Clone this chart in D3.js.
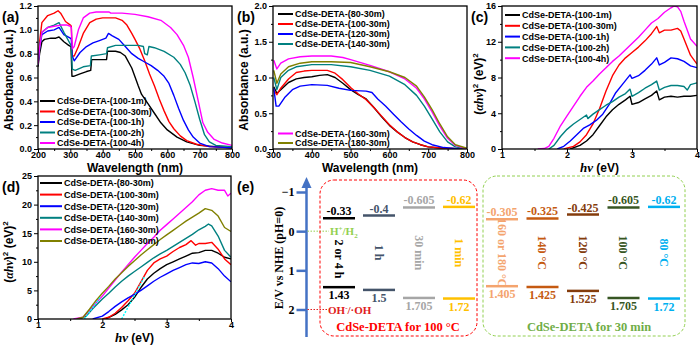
<!DOCTYPE html>
<html>
<head>
<meta charset="utf-8">
<script src="https://d3js.org/d3.v7.min.js"></script>
<style>
  body { margin: 0; background: #fff; }
  svg text { font-family: "Liberation Sans", Arial, sans-serif; font-weight: bold; }
  .serif text { font-family: "Liberation Serif", "Times New Roman", serif; font-weight: bold; }
  .tick text { font-size: 9px; fill: #000; }
  .domain { display: none; }
</style>
</head>
<body>
<svg width="700" height="345"></svg>
<script>
// ---------- panel (a): absorbance, 100 °C series ----------
const aNames = ['CdSe-DETA-(100-1m)', 'CdSe-DETA-(100-30m)', 'CdSe-DETA-(100-1h)', 'CdSe-DETA-(100-2h)', 'CdSe-DETA-(100-4h)'];
const a1m = [[200,0.69],[205,0.8],[212,0.9],[220,0.92],[240,0.93],[255,0.93],[265,0.94],[280,0.9],[295,0.87],[302,0.86],[305,0.61],[310,0.61],[330,0.63],[350,0.65],[363,0.66],[366,0.75],[390,0.75],[412,0.75],[415,0.82],[440,0.82],[455,0.81],[470,0.78],[490,0.68],[510,0.53],[520,0.46],[530,0.42],[540,0.38],[560,0.3],[580,0.22],[600,0.16],[630,0.1],[660,0.06],[700,0.03],[750,0.02],[800,0.01]];
const a30m = [[200,0.74],[205,0.9],[212,1.06],[230,1.12],[250,1.14],[262,1.16],[270,1.14],[285,1.07],[300,1.04],[303,1.03],[306,0.78],[312,0.78],[325,0.86],[340,0.97],[360,1.06],[380,1.09],[400,1.1],[440,1.1],[460,1.08],[475,1.04],[490,0.97],[500,0.92],[515,0.84],[530,0.74],[545,0.63],[560,0.53],[575,0.42],[590,0.32],[605,0.23],[620,0.17],[640,0.11],[660,0.07],[690,0.04],[730,0.02],[800,0.01]];
const a1h = [[200,0.71],[205,0.85],[212,0.96],[230,0.99],[250,1.0],[265,1.02],[280,0.96],[300,0.93],[303,0.92],[306,0.78],[312,0.74],[330,0.81],[350,0.86],[370,0.89],[390,0.91],[410,0.93],[418,0.97],[430,0.95],[450,0.92],[470,0.86],[490,0.8],[510,0.76],[530,0.73],[550,0.7],[570,0.66],[590,0.61],[605,0.55],[620,0.45],[635,0.34],[650,0.24],[665,0.16],[680,0.1],[700,0.05],[730,0.02],[800,0.01]];
const a2h = [[200,0.71],[205,0.85],[212,0.98],[230,1.02],[250,1.04],[265,1.06],[280,0.98],[300,0.88],[303,0.86],[306,0.67],[315,0.66],[340,0.69],[362,0.7],[365,0.78],[390,0.79],[412,0.8],[415,0.85],[440,0.87],[480,0.87],[510,0.87],[526,0.86],[530,0.8],[538,0.79],[543,0.86],[560,0.85],[590,0.82],[620,0.77],[640,0.71],[655,0.64],[670,0.54],[685,0.4],[700,0.25],[715,0.12],[730,0.06],[750,0.03],[800,0.02]];
const a4h = [[200,0.71],[205,0.85],[212,0.98],[230,1.02],[250,1.03],[270,1.04],[290,1.04],[300,1.03],[303,1.02],[306,0.84],[312,0.86],[325,1.0],[340,1.1],[360,1.14],[380,1.15],[420,1.15],[425,1.14],[460,1.14],[500,1.13],[540,1.11],[580,1.08],[610,1.02],[630,0.96],[650,0.87],[665,0.77],[680,0.6],[695,0.41],[710,0.22],[725,0.14],[745,0.08],[770,0.05],[800,0.03]];

// ---------- panel (b): absorbance, 30 min series ----------
const bNames = ['CdSe-DETA-(80-30m)', 'CdSe-DETA-(100-30m)', 'CdSe-DETA-(120-30m)', 'CdSe-DETA-(140-30m)', 'CdSe-DETA-(160-30m)', 'CdSe-DETA-(180-30m)'];
const b80 = [[302,0.87],[310,0.78],[320,0.83],[340,0.93],[360,0.98],[380,1.0],[400,1.01],[420,1.03],[440,1.04],[460,1.0],[480,0.92],[500,0.83],[520,0.76],[540,0.7],[560,0.58],[580,0.45],[600,0.33],[620,0.24],[640,0.16],[660,0.1],[680,0.06],[700,0.03],[740,0.01],[800,0]];
const b100 = [[302,0.82],[310,0.76],[320,0.85],[340,0.98],[360,1.07],[380,1.09],[400,1.1],[440,1.1],[460,1.06],[480,0.97],[500,0.86],[520,0.77],[540,0.69],[560,0.58],[580,0.46],[600,0.34],[620,0.24],[640,0.16],[660,0.1],[680,0.06],[700,0.03],[740,0.01],[800,0]];
const b120 = [[302,0.85],[308,0.6],[315,0.6],[330,0.72],[350,0.83],[370,0.88],[400,0.9],[440,0.89],[470,0.85],[500,0.82],[540,0.81],[555,0.79],[570,0.7],[590,0.6],[610,0.49],[630,0.38],[650,0.28],[670,0.19],[690,0.11],[710,0.06],[740,0.02],[780,0],[800,0]];
const b140 = [[302,1.0],[310,0.83],[320,1.0],[340,1.1],[360,1.15],[400,1.18],[450,1.18],[500,1.15],[550,1.1],[600,1.02],[640,0.9],[670,0.75],[690,0.6],[710,0.42],[730,0.24],[750,0.1],[770,0.03],[800,0]];
const b160 = [[302,1.24],[310,1.12],[320,1.2],[340,1.26],[370,1.29],[400,1.3],[450,1.3],[480,1.28],[500,1.25],[550,1.17],[600,1.08],[640,0.98],[670,0.85],[690,0.7],[710,0.52],[730,0.32],[750,0.15],[770,0.05],[800,0]];
const b180 = [[302,1.1],[310,0.92],[320,1.05],[340,1.15],[370,1.2],[400,1.22],[450,1.22],[500,1.21],[550,1.15],[600,1.08],[640,1.0],[670,0.88],[690,0.73],[710,0.55],[730,0.35],[750,0.17],[770,0.06],[800,0.01]];

// ---------- panel (c): Tauc, 100 °C series ----------
const c1m = [[2.05,0],[2.2,0.4],[2.3,0.9],[2.4,1.6],[2.5,2.6],[2.6,3.6],[2.7,4.4],[2.8,5.0],[2.9,5.5],[2.97,5.9],[3.0,5.0],[3.1,5.2],[3.2,5.6],[3.3,6.0],[3.38,6.5],[3.42,5.5],[3.5,5.8],[3.6,5.9],[3.7,5.8],[3.8,5.9],[3.9,5.9],[4.0,6.0]];
const c30m = [[1.95,0],[2.1,0.3],[2.2,0.8],[2.3,1.6],[2.4,2.8],[2.5,4.5],[2.6,6.5],[2.7,8.2],[2.8,9.4],[2.9,10.2],[3.0,10.8],[3.1,11.4],[3.2,12.1],[3.3,12.9],[3.38,13.7],[3.42,13.0],[3.5,13.3],[3.6,13.3],[3.7,13.5],[3.75,13.2],[3.8,12.3],[3.9,10.5],[4.0,9.5]];
const c1h = [[1.85,0],[1.95,0.3],[2.05,0.9],[2.15,1.6],[2.25,2.3],[2.35,2.7],[2.45,3.2],[2.55,3.9],[2.65,5.0],[2.75,6.3],[2.85,7.2],[2.97,8.3],[3.0,7.9],[3.1,8.2],[3.2,8.8],[3.3,9.5],[3.38,10.2],[3.42,9.4],[3.5,9.7],[3.6,10.2],[3.7,10.1],[3.8,9.8],[3.9,9.3],[4.0,9.1]];
const c2h = [[1.72,0],[1.8,0.4],[1.9,1.4],[2.0,2.2],[2.1,2.8],[2.2,3.3],[2.3,3.8],[2.32,3.4],[2.4,3.9],[2.5,4.4],[2.6,4.9],[2.7,5.3],[2.8,5.8],[2.9,6.2],[2.97,6.7],[3.0,5.9],[3.1,6.3],[3.2,6.8],[3.3,7.2],[3.38,7.6],[3.42,6.6],[3.5,6.9],[3.6,7.1],[3.7,7.1],[3.8,7.0],[3.85,6.6],[3.9,7.2],[4.0,7.4]];
const c4h = [[1.55,0],[1.65,0.05],[1.72,0.3],[1.8,1.2],[1.9,2.6],[2.0,3.7],[2.1,4.8],[2.2,5.9],[2.3,6.9],[2.4,7.6],[2.5,8.4],[2.6,9.1],[2.7,9.8],[2.8,10.4],[2.9,11.1],[3.0,11.8],[3.1,12.5],[3.2,13.3],[3.3,14.1],[3.4,14.6],[3.5,15.3],[3.6,15.8],[3.65,16.0],[3.7,15.9],[3.75,15.4],[3.8,14.3],[3.9,12.3],[4.0,11.5]];

// ---------- panel (d): Tauc, 30 min series ----------
const d80 = [[2.05,0],[2.2,0.8],[2.3,1.6],[2.4,2.5],[2.5,3.8],[2.6,5.5],[2.7,7.0],[2.8,8.0],[2.9,8.8],[3.0,9.5],[3.1,10.0],[3.2,10.5],[3.3,11.0],[3.4,11.5],[3.5,11.6],[3.6,12.0],[3.7,12.0],[3.8,11.5],[3.9,10.8],[4.0,10.5]];
const d100 = [[2.0,0],[2.1,0.3],[2.2,1.0],[2.3,2.0],[2.4,3.2],[2.5,4.5],[2.6,6.5],[2.7,8.5],[2.8,9.8],[2.9,10.5],[3.0,11.0],[3.1,11.8],[3.2,12.5],[3.3,13.0],[3.38,13.7],[3.45,12.9],[3.5,13.2],[3.6,13.2],[3.7,13.4],[3.8,12.2],[3.9,10.5],[4.0,9.5]];
const d120 = [[1.85,0],[2.0,0.5],[2.1,1.3],[2.2,2.2],[2.3,3.0],[2.4,3.7],[2.5,4.3],[2.6,5.0],[2.7,5.8],[2.8,6.6],[2.9,7.3],[3.0,7.9],[3.1,8.5],[3.2,9.0],[3.3,9.5],[3.4,9.8],[3.5,9.7],[3.6,10.0],[3.7,9.8],[3.8,8.8],[3.9,7.5],[4.0,6.5]];
const d140 = [[1.65,0],[1.75,0.5],[1.85,1.8],[2.0,3.5],[2.1,4.5],[2.2,5.6],[2.3,6.6],[2.4,7.5],[2.5,8.3],[2.6,9.1],[2.7,9.9],[2.8,10.7],[2.9,11.4],[3.0,12.0],[3.1,12.7],[3.2,13.4],[3.3,14.1],[3.4,14.8],[3.5,15.6],[3.6,16.2],[3.65,16.6],[3.7,16.3],[3.8,14.5],[3.9,12.0],[4.0,10.8]];
const d160 = [[1.55,0],[1.7,0.3],[1.8,1.5],[1.9,2.8],[2.0,4.0],[2.1,5.4],[2.2,6.8],[2.3,8.2],[2.4,9.5],[2.5,10.8],[2.6,12.0],[2.7,13.2],[2.8,14.3],[2.9,15.5],[3.0,16.5],[3.1,17.5],[3.2,18.5],[3.3,19.5],[3.4,20.5],[3.5,21.7],[3.6,22.5],[3.7,22.8],[3.8,22.5],[3.9,22.5],[3.95,21.5],[4.0,22.0]];
const d180 = [[1.6,0],[1.7,0.3],[1.8,1.7],[1.9,3.2],[2.0,4.5],[2.1,5.7],[2.2,7.0],[2.3,8.1],[2.4,9.2],[2.5,10.2],[2.6,11.2],[2.7,12.1],[2.8,13.0],[2.9,13.9],[3.0,14.7],[3.1,15.5],[3.2,16.3],[3.3,17.1],[3.4,17.8],[3.5,18.5],[3.6,19.3],[3.7,19.0],[3.8,18.0],[3.9,16.0],[4.0,15.3]];
const dFit1 = [[1.72,0],[1.97,3.8]];
const dFit2 = [[2.3,0],[2.66,7.5]];

const colors5 = ['#000000', '#ff0000', '#0000ff', '#008080', '#ff00ff'];
const colors6 = ['#000000', '#ff0000', '#0000ff', '#008080', '#ff00ff', '#808000'];

// ---------- panel (e): band positions ----------
const eTicks = [-1, 0, 1, 2];
const timeNames = ['2 or 4 h', '1 h', '30 min', '1 min'];
const timeCB = [-0.33, -0.4, -0.605, -0.62];
const timeVB = [1.43, 1.5, 1.705, 1.72];
const timeColors = ['#000000', '#44546a', '#a6a6a6', '#ffc000'];
const tempNames = ['160 or 180 °C', '140 °C', '120 °C', '100 °C', '80 °C'];
const tempCB = [-0.305, -0.325, -0.425, -0.605, -0.62];
const tempVB = [1.405, 1.425, 1.525, 1.705, 1.72];
const tempColors = ['#f4a46e', '#c55a11', '#843c0c', '#375623', '#00b0f0'];

const svg = d3.select('svg');
svg.append('rect').attr('width', 700).attr('height', 345).attr('fill', '#fff');

function rotLabel(g, x, y, parts) {
  const t = g.append('text').attr('transform', `translate(${x},${y}) rotate(-90)`)
    .attr('text-anchor', 'middle').style('font-size', '12px');
  parts(t);
}

function tauc(t) {
  t.append('tspan').text('(');
  t.append('tspan').text('αhν').style('font-style', 'italic').style('font-family', 'Liberation Serif, serif');
  t.append('tspan').text(')');
  t.append('tspan').text('2').attr('dy', -5).style('font-size', '8px');
  t.append('tspan').text(' (eV)').attr('dy', 5);
  t.append('tspan').text('2').attr('dy', -5).style('font-size', '8px');
}

function panel(p) {
  const x = d3.scaleLinear().domain(p.xd).range([p.l, p.r]);
  const y = d3.scaleLinear().domain(p.yd).range([p.b, p.t]);
  const g = svg.append('g');
  const clipId = 'clip' + p.tag.replace(/\W/g, '');
  g.append('clipPath').attr('id', clipId).append('rect')
    .attr('x', p.l).attr('y', p.t).attr('width', p.r - p.l).attr('height', p.b - p.t);

  g.append('g').attr('transform', `translate(0,${p.b})`)
    .call(d3.axisBottom(x).tickValues(p.xMinor).tickSize(2).tickFormat(''));
  g.append('g').attr('transform', `translate(${p.l},0)`)
    .call(d3.axisLeft(y).tickValues(p.yMinor).tickSize(2).tickFormat(''));
  g.append('g').attr('transform', `translate(0,${p.b})`)
    .call(d3.axisBottom(x).tickValues(p.xTicks).tickSize(3).tickPadding(0).tickFormat(p.xf));
  g.append('g').attr('transform', `translate(${p.l},0)`)
    .call(d3.axisLeft(y).tickValues(p.yTicks).tickSize(4).tickPadding(2).tickFormat(p.yf));
  g.selectAll('.tick line').attr('stroke', '#000').attr('stroke-width', 1);

  const line = d3.line().x(d => x(d[0])).y(d => y(d[1]));
  const lines = g.append('g').attr('clip-path', `url(#${clipId})`);
  p.series.forEach((s, i) => {
    lines.append('path').datum(s).attr('d', line).attr('fill', 'none')
      .attr('stroke', p.colors[i]).attr('stroke-width', 1.4).attr('stroke-linejoin', 'round');
  });
  (p.fits || []).forEach(f => {
    lines.append('path').datum(f).attr('d', line).attr('fill', 'none')
      .attr('stroke', '#00ffff').attr('stroke-width', 1.4).attr('stroke-dasharray', '2,1.5');
  });

  g.append('rect').attr('x', p.l).attr('y', p.t).attr('width', p.r - p.l).attr('height', p.b - p.t)
    .attr('fill', 'none').attr('stroke', '#000').attr('stroke-width', 1.3);

  // legend
  p.legend.forEach(lg => {
    lg.names.forEach((n, k) => {
      const yy = lg.y0 + k * lg.dy;
      g.append('line').attr('x1', lg.x).attr('x2', lg.x + lg.len).attr('y1', yy).attr('y2', yy)
        .attr('stroke', p.colors[lg.start + k]).attr('stroke-width', 2);
      g.append('text').attr('x', lg.x + lg.len + 2).attr('y', yy + 3.3).style('font-size', '9px').text(n);
    });
  });

  g.append('text').attr('x', p.lx).attr('y', p.ly).style('font-size', '14px').text(p.tag);
  const xt = g.append('text').attr('x', (p.l + p.r) / 2).attr('y', p.b + 23)
    .attr('text-anchor', 'middle').style('font-size', '12px');
  p.xTitle(xt);
  rotLabel(g, p.yTitleX, p.yTitleY, p.yTitle);
}

const wl = t => t.text('Wavelength (nm)');
const absT = t => t.text('Absorbance (a.u.)');
const hv = t => {
  t.append('tspan').text('hν').style('font-style', 'italic').style('font-family', 'Liberation Serif, serif').style('font-size', '13px');
  t.append('tspan').text(' (eV)');
};

panel({ tag: '(a)', l: 38, r: 232, t: 6, b: 149, xd: [200, 800], yd: [0, 1.2],
  xTicks: d3.range(200, 801, 100), xMinor: d3.range(250, 800, 100), xf: d3.format('d'),
  yTicks: d3.range(0, 1.21, 0.2), yMinor: d3.range(0.1, 1.2, 0.2), yf: d3.format('.1f'),
  series: [a1m, a30m, a1h, a2h, a4h], colors: colors5,
  legend: [{ names: aNames, start: 0, x: 40, len: 15, y0: 101, dy: 10.5 }],
  lx: 2, ly: 22, xTitle: wl, yTitle: absT, yTitleX: 13, yTitleY: 80 });

panel({ tag: '(b)', l: 273, r: 467, t: 6, b: 149, xd: [300, 800], yd: [0, 2],
  xTicks: d3.range(300, 801, 100), xMinor: d3.range(350, 800, 100), xf: d3.format('d'),
  yTicks: d3.range(0, 2.01, 0.5), yMinor: d3.range(0.25, 2, 0.5), yf: d3.format('.1f'),
  series: [b80, b100, b120, b140, b160, b180], colors: colors6,
  legend: [{ names: bNames.slice(0, 4), start: 0, x: 278, len: 15, y0: 14, dy: 10 },
           { names: bNames.slice(4), start: 4, x: 278, len: 15, y0: 133.5, dy: 9.5 }],
  lx: 237, ly: 22, xTitle: wl, yTitle: absT, yTitleX: 248, yTitleY: 80 });

panel({ tag: '(c)', l: 502, r: 697, t: 6, b: 149, xd: [1, 4], yd: [0, 16],
  xTicks: [1, 2, 3, 4], xMinor: [1.5, 2.5, 3.5], xf: d3.format('d'),
  yTicks: [0, 4, 8, 12, 16], yMinor: [2, 6, 10, 14], yf: d3.format('d'),
  series: [c1m, c30m, c1h, c2h, c4h], colors: colors5,
  legend: [{ names: aNames, start: 0, x: 505, len: 15, y0: 15, dy: 10.8 }],
  lx: 471, ly: 22, xTitle: hv, yTitle: tauc, yTitleX: 483, yTitleY: 84 });

panel({ tag: '(d)', l: 38, r: 231, t: 176, b: 319, xd: [1, 4], yd: [0, 25],
  xTicks: [1, 2, 3, 4], xMinor: [1.5, 2.5, 3.5], xf: d3.format('d'),
  yTicks: [0, 5, 10, 15, 20, 25], yMinor: [2.5, 7.5, 12.5, 17.5, 22.5], yf: d3.format('d'),
  series: [d80, d100, d120, d140, d160, d180], colors: colors6, fits: [dFit1, dFit2],
  legend: [{ names: bNames, start: 0, x: 40, len: 22, y0: 183, dy: 11.6 }],
  lx: 2, ly: 192, xTitle: hv, yTitle: tauc, yTitleX: 13, yTitleY: 252 });

// ---------- panel (e) ----------
const ge = svg.append('g').attr('class', 'serif');
const yE = d3.scaleLinear().domain([-1, 2]).range([192, 309.5]);
const axX = 306.5;

ge.append('text').attr('x', 237).attr('y', 192).style('font-family', 'Liberation Sans, Arial, sans-serif')
  .style('font-size', '14px').text('(e)');

ge.append('line').attr('x1', axX).attr('x2', axX).attr('y1', 337).attr('y2', 186)
  .attr('stroke', '#4472c4').attr('stroke-width', 2.5);
ge.append('path').attr('d', `M${axX - 5},${188} L${axX + 5},${188} L${axX},${177} Z`).attr('fill', '#4472c4');

const eAxis = ge.append('g').attr('transform', `translate(${axX},0)`)
  .call(d3.axisLeft(yE).tickValues(eTicks).tickSize(10).tickPadding(2).tickFormat(d3.format('d')));
eAxis.selectAll('.tick line').attr('stroke', '#4472c4').attr('stroke-width', 2.5);
eAxis.selectAll('.tick text').style('font-size', '12px').style('font-family', 'Liberation Serif, serif');

ge.append('text').attr('transform', `translate(283,258) rotate(-90)`).attr('text-anchor', 'middle')
  .style('font-size', '12px').text('E/V vs NHE (pH=0)');

// redox references
ge.append('line').attr('x1', axX + 1).attr('x2', 329).attr('y1', yE(0)).attr('y2', yE(0))
  .attr('stroke', '#92d050').attr('stroke-width', 1).attr('stroke-dasharray', '1.5,1.5');
const hText = ge.append('text').attr('x', 330).attr('y', yE(0) + 4).style('font-size', '11px').attr('fill', '#92d050');
hText.append('tspan').text('H');
hText.append('tspan').text('+').attr('dy', -4).style('font-size', '7px');
hText.append('tspan').text('/H').attr('dy', 4);
hText.append('tspan').text('2').attr('dy', 3).style('font-size', '7px');

ge.append('line').attr('x1', axX + 1).attr('x2', 327).attr('y1', yE(2)).attr('y2', yE(2))
  .attr('stroke', '#e02020').attr('stroke-width', 1).attr('stroke-dasharray', '1.5,1.5');
const oText = ge.append('text').attr('x', 328).attr('y', yE(2) + 4).style('font-size', '11px').attr('fill', '#e02020');
oText.append('tspan').text('OH');
oText.append('tspan').text('-').attr('dy', -4).style('font-size', '7px');
oText.append('tspan').text('/·OH').attr('dy', 4);

// boxes
ge.append('rect').attr('x', 320).attr('y', 180).attr('width', 157).attr('height', 156).attr('rx', 14)
  .attr('fill', 'none').attr('stroke', '#ff0000').attr('stroke-width', 1).attr('stroke-dasharray', '3,2');
ge.append('rect').attr('x', 483).attr('y', 176).attr('width', 202).attr('height', 160).attr('rx', 14)
  .attr('fill', 'none').attr('stroke', '#92d050').attr('stroke-width', 1).attr('stroke-dasharray', '3,2');
ge.append('text').attr('x', 398).attr('y', 331).attr('text-anchor', 'middle').attr('fill', '#ff0000')
  .style('font-size', '12.5px').text('CdSe-DETA for 100 °C');
ge.append('text').attr('x', 589).attr('y', 331).attr('text-anchor', 'middle').attr('fill', '#70ad47')
  .style('font-size', '12.5px').text('CdSe-DETA for 30 min');

function levels(names, cb, vb, cols, range, firstMid) {
  const xs = d3.scalePoint().domain(names).range(range);
  names.forEach((n, i) => {
    const cx = xs(n);
    [cb[i], vb[i]].forEach((v, j) => {
      ge.append('line').attr('x1', cx - 16).attr('x2', cx + 16).attr('y1', yE(v)).attr('y2', yE(v))
        .attr('stroke', cols[i]).attr('stroke-width', 2.5);
      ge.append('text').attr('x', cx).attr('y', j === 0 ? yE(v) - 3 : yE(v) + 12)
        .attr('text-anchor', 'middle').attr('fill', cols[i]).style('font-size', '12px')
        .text(v);
    });
    const mid = i === 0 && firstMid ? firstMid : yE((cb[i] + vb[i]) / 2);
    ge.append('text').attr('transform', `translate(${cx},${mid}) rotate(90)`)
      .attr('text-anchor', 'middle').attr('dy', '0.35em').attr('fill', cols[i])
      .style('font-size', '12px').text(n);
  });
}
levels(timeNames, timeCB, timeVB, timeColors, [339, 459], 259);
levels(tempNames, tempCB, tempVB, tempColors, [502, 664]);
</script>
</body>
</html>
